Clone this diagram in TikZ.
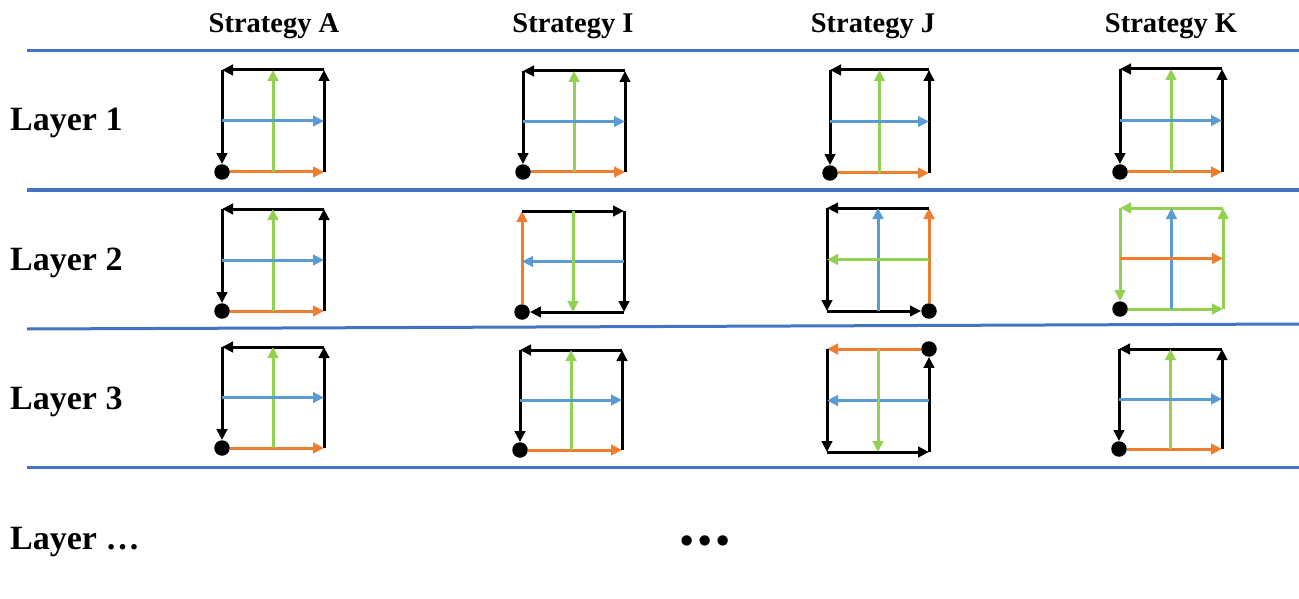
\documentclass[tikz,border=0pt]{standalone}
\usepackage{fontspec}
\setmainfont{Liberation Serif}
\usetikzlibrary{arrows.meta}
\definecolor{lineblue}{HTML}{4472C4}
\definecolor{aorange}{HTML}{ED7D31}
\definecolor{ablue}{HTML}{5B9BD5}
\definecolor{agreen}{HTML}{92D050}
\newcommand{\defcell}[5]{%
  \coordinate (#1-bl) at (#2,#5);
  \coordinate (#1-br) at (#4,#5);
  \coordinate (#1-tl) at (#2,#3);
  \coordinate (#1-tr) at (#4,#3);
  \coordinate (#1-l) at (#2,{(#3+#5)/2});
  \coordinate (#1-r) at (#4,{(#3+#5)/2});
  \coordinate (#1-t) at ({(#2+#4)/2},#3);
  \coordinate (#1-b) at ({(#2+#4)/2},#5);
}
% standard: dot at bottom-left, counter-clockwise outer loop
\newcommand{\patstd}[5]{%
  \node[dotnode] (#1-dot) at (#1-bl) {};
  \draw[arr,#2] (#1-br) -- (#1-tr);
  \draw[arr,#2] (#1-tr) -- (#1-tl);
  \draw[arr,#2] (#1-tl) -- (#1-dot);
  \draw[arr,#3] (#1-dot) -- (#1-br);
  \draw[arr,#4] (#1-b) -- (#1-t);
  \draw[arr,#5] (#1-l) -- (#1-r);
}
\tikzset{
  arr/.style={line width=3pt,-{Triangle[length=11pt,width=10.5pt]}},
  dotnode/.style={circle,fill=black,inner sep=0pt,minimum size=15.5pt},
  sep/.style={line width=3pt,lineblue},
  head/.style={font=\fontsize{28.5}{32}\selectfont\bfseries,anchor=base},
  rowlab/.style={font=\fontsize{34}{38}\selectfont\bfseries,anchor=base west,inner sep=0pt},
}
\begin{document}
\begin{tikzpicture}[x=1pt,y=-1pt]
\useasboundingbox (0,0) rectangle (1299,599);
% headers
\node[head] (hA) at (274,33) {Strategy A};
\node[head] (hI) at (573,33) {Strategy I};
\node[head] (hJ) at (873,33) {Strategy J};
\node[head] (hK) at (1171,33) {Strategy K};
% separators
\coordinate (s1l) at (27,51); \coordinate (s1r) at (1299,51);
\coordinate (s2l) at (27,190); \coordinate (s2r) at (1299,190);
\coordinate (s3l) at (27,329); \coordinate (s3r) at (1299,324);
\coordinate (s4l) at (27,467); \coordinate (s4r) at (1299,467);
\draw[sep] (s1l) -- (s1r);
\draw[sep] (s2l) -- (s2r);
\draw[sep] (s3l) -- (s3r);
\draw[sep] (s4l) -- (s4r);
% row labels
\node[rowlab] (L1) at (10,131) {Layer 1};
\node[rowlab] (L2) at (10,270) {Layer 2};
\node[rowlab] (L3) at (10,409) {Layer 3};
\node[rowlab] (L4) at (10,549) {Layer …};
\node[font=\fontsize{38}{40}\selectfont\bfseries,anchor=center] (dots) at (705,545) {•\kern5pt•\kern5pt•};
% cells
\defcell{a1}{222}{70}{324}{172}
\defcell{i1}{523}{71}{625}{172}
\defcell{j1}{830}{70}{929}{173}
\defcell{k1}{1120}{69}{1222}{172}
\defcell{a2}{222}{209}{324}{311}
\defcell{i2}{522}{211}{624}{312}
\defcell{j2}{827}{208}{929}{311}
\defcell{k2}{1120}{208}{1223}{309}
\defcell{a3}{222}{347}{324}{448}
\defcell{i3}{520}{350}{622}{450}
\defcell{j3}{827}{349}{929}{452}
\defcell{k3}{1119}{349}{1222}{449}
% row 1
\patstd{a1}{black}{aorange}{agreen}{ablue}
\patstd{i1}{black}{aorange}{agreen}{ablue}
\patstd{j1}{black}{aorange}{agreen}{ablue}
\patstd{k1}{black}{aorange}{agreen}{ablue}
% row 2
\patstd{a2}{black}{aorange}{agreen}{ablue}
% I row 2
\node[dotnode] (i2-dot) at (i2-bl) {};
\draw[arr,aorange] (i2-dot) -- (i2-tl);
\draw[arr,black] (i2-tl) -- (i2-tr);
\draw[arr,black] (i2-tr) -- (i2-br);
\draw[arr,black] (i2-br) -- (i2-dot);
\draw[arr,ablue] (i2-r) -- (i2-l);
\draw[arr,agreen] (i2-t) -- (i2-b);
% J row 2
\node[dotnode] (j2-dot) at (j2-br) {};
\draw[arr,aorange] (j2-dot) -- (j2-tr);
\draw[arr,black] (j2-tr) -- (j2-tl);
\draw[arr,black] (j2-tl) -- (j2-bl);
\draw[arr,black] (j2-bl) -- (j2-dot);
\draw[arr,ablue] (j2-b) -- (j2-t);
\draw[arr,agreen] (j2-r) -- (j2-l);
% K row 2
\patstd{k2}{agreen}{agreen}{ablue}{aorange}
% row 3
\patstd{a3}{black}{aorange}{agreen}{ablue}
\patstd{i3}{black}{aorange}{agreen}{ablue}
% J row 3
\node[dotnode] (j3-dot) at (j3-tr) {};
\draw[arr,aorange] (j3-dot) -- (j3-tl);
\draw[arr,black] (j3-tl) -- (j3-bl);
\draw[arr,black] (j3-bl) -- (j3-br);
\draw[arr,black] (j3-br) -- (j3-dot);
\draw[arr,ablue] (j3-r) -- (j3-l);
\draw[arr,agreen] (j3-t) -- (j3-b);
\patstd{k3}{black}{aorange}{agreen}{ablue}
\end{tikzpicture}
\end{document}
